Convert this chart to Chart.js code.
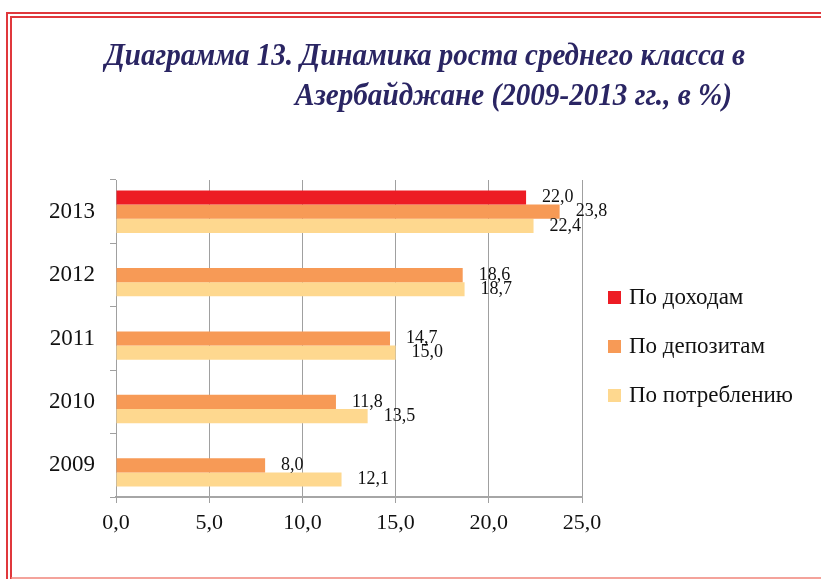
<!DOCTYPE html>
<html>
  <head>
    <meta charset="utf-8">
    <style type="text/css">
    html, body { margin: 0; padding: 0; background: #fff; }
    .chart-container { position: relative; width: 821px; height: 579px; }
    </style>
  </head>
  <body>
    <script src="https://cdnjs.cloudflare.com/ajax/libs/Chart.js/4.4.1/chart.umd.min.js"></script>

    <div class="chart-container">
      <canvas id="myChart" width="821" height="579"></canvas>
    </div>

    <script>
      /* datas */
      const years = ['2013', '2012', '2011', '2010', '2009'];
      const seriesNames = ['По доходам', 'По депозитам', 'По потреблению'];
      const byIncome = [22.0, null, null, null, null];
      const byDeposits = [23.8, 18.6, 14.7, 11.8, 8.0];
      const byConsumption = [22.4, 18.7, 15.0, 13.5, 12.1];
      const xTicks = [0, 5, 10, 15, 20, 25];
      const titleLines = ['Диаграмма 13. Динамика роста среднего класса в', 'Азербайджане (2009-2013 гг., в %)'];

      const colors = ['#ED1C24', '#F79A56', '#FED88F'];
      const serif = "'Liberation Serif', 'DejaVu Serif', serif";
      const fmt = v => v.toFixed(1).replace('.', ',');

      // draw text squeezed to a given width (title font is a condensed one)
      function fitText(ctx, text, x, y, width, alignRight) {
        const w = ctx.measureText(text).width;
        const k = width / w;
        ctx.save();
        ctx.translate(alignRight ? x - width : x, y);
        ctx.scale(k, 1);
        ctx.textAlign = 'left';
        ctx.fillText(text, 0, 0);
        ctx.restore();
      }

      /* frame + title */
      const framePlugin = {
        id: 'frame',
        beforeDraw(chart) {
          const ctx = chart.ctx;
          ctx.save();
          ctx.fillStyle = '#fff';
          ctx.fillRect(0, 0, chart.width, chart.height);
          ctx.strokeStyle = '#E0383C';
          ctx.lineWidth = 2;
          ctx.beginPath();
          ctx.moveTo(7, 579); ctx.lineTo(7, 13); ctx.lineTo(821, 13);
          ctx.moveTo(11, 579); ctx.lineTo(11, 17); ctx.lineTo(821, 17);
          ctx.stroke();
          ctx.strokeStyle = '#F0857A';
          ctx.lineWidth = 1.5;
          ctx.beginPath();
          ctx.moveTo(11, 578); ctx.lineTo(821, 578);
          ctx.stroke();

          ctx.fillStyle = '#2A2563';
          ctx.font = "bold italic 32px " + serif;
          ctx.textBaseline = 'alphabetic';
          fitText(ctx, titleLines[0], 105, 65, 640, false);
          fitText(ctx, titleLines[1], 732, 105, 437, true);
          ctx.restore();
        }
      };

      /* value labels + legend */
      const labelPlugin = {
        id: 'valueLabels',
        afterDatasetsDraw(chart) {
          const ctx = chart.ctx;
          ctx.save();
          ctx.font = "18px " + serif;
          ctx.fillStyle = '#111';
          ctx.textAlign = 'left';
          ctx.textBaseline = 'middle';
          chart.data.datasets.forEach((ds, i) => {
            const meta = chart.getDatasetMeta(i);
            meta.data.forEach((bar, j) => {
              const v = ds.data[j];
              if (v === null || v === undefined) return;
              ctx.fillText(fmt(v), bar.x + 16, bar.y);
            });
          });

          ctx.font = "23px " + serif;
          chart.data.datasets.forEach((ds, i) => {
            const cy = 298 + i * 49;
            ctx.fillStyle = ds.backgroundColor;
            ctx.fillRect(608, cy - 7, 13, 13);
            ctx.fillStyle = '#111';
            ctx.fillText(ds.label, 629, cy);
          });
          ctx.restore();
        }
      };

      const myChart = new Chart('myChart', {
        type: 'bar',
        data: {
          labels: years,
          datasets: [
            { label: seriesNames[0], data: byIncome, backgroundColor: colors[0] },
            { label: seriesNames[1], data: byDeposits, backgroundColor: colors[1] },
            { label: seriesNames[2], data: byConsumption, backgroundColor: colors[2] }
          ]
        },
        options: {
          indexAxis: 'y',
          responsive: false,
          animation: false,
          layout: { padding: { left: 0, top: 180, right: 239, bottom: 0 } },
          datasets: { bar: { categoryPercentage: 0.67, barPercentage: 1.0 } },
          plugins: {
            legend: { display: false },
            tooltip: { enabled: false }
          },
          scales: {
            x: {
              min: 0,
              max: 25,
              afterBuildTicks: scale => { scale.ticks = xTicks.map(v => ({ value: v })); },
              afterFit: scale => { scale.height = 82; },
              grid: { color: '#A0A0A0', lineWidth: 1, tickLength: 6 },
              border: { color: '#A6A6A6', width: 2 },
              ticks: {
                padding: 7,
                color: '#111',
                font: { family: serif, size: 22 },
                callback: v => fmt(v)
              }
            },
            y: {
              afterFit: scale => { scale.width = 116; },
              grid: { drawOnChartArea: false, color: '#A0A0A0', tickLength: 6 },
              border: { color: '#A0A0A0', width: 1 },
              ticks: {
                padding: 15,
                color: '#111',
                font: { family: serif, size: 23 }
              }
            }
          }
        },
        plugins: [framePlugin, labelPlugin]
      });
    </script>
  </body>
</html>
